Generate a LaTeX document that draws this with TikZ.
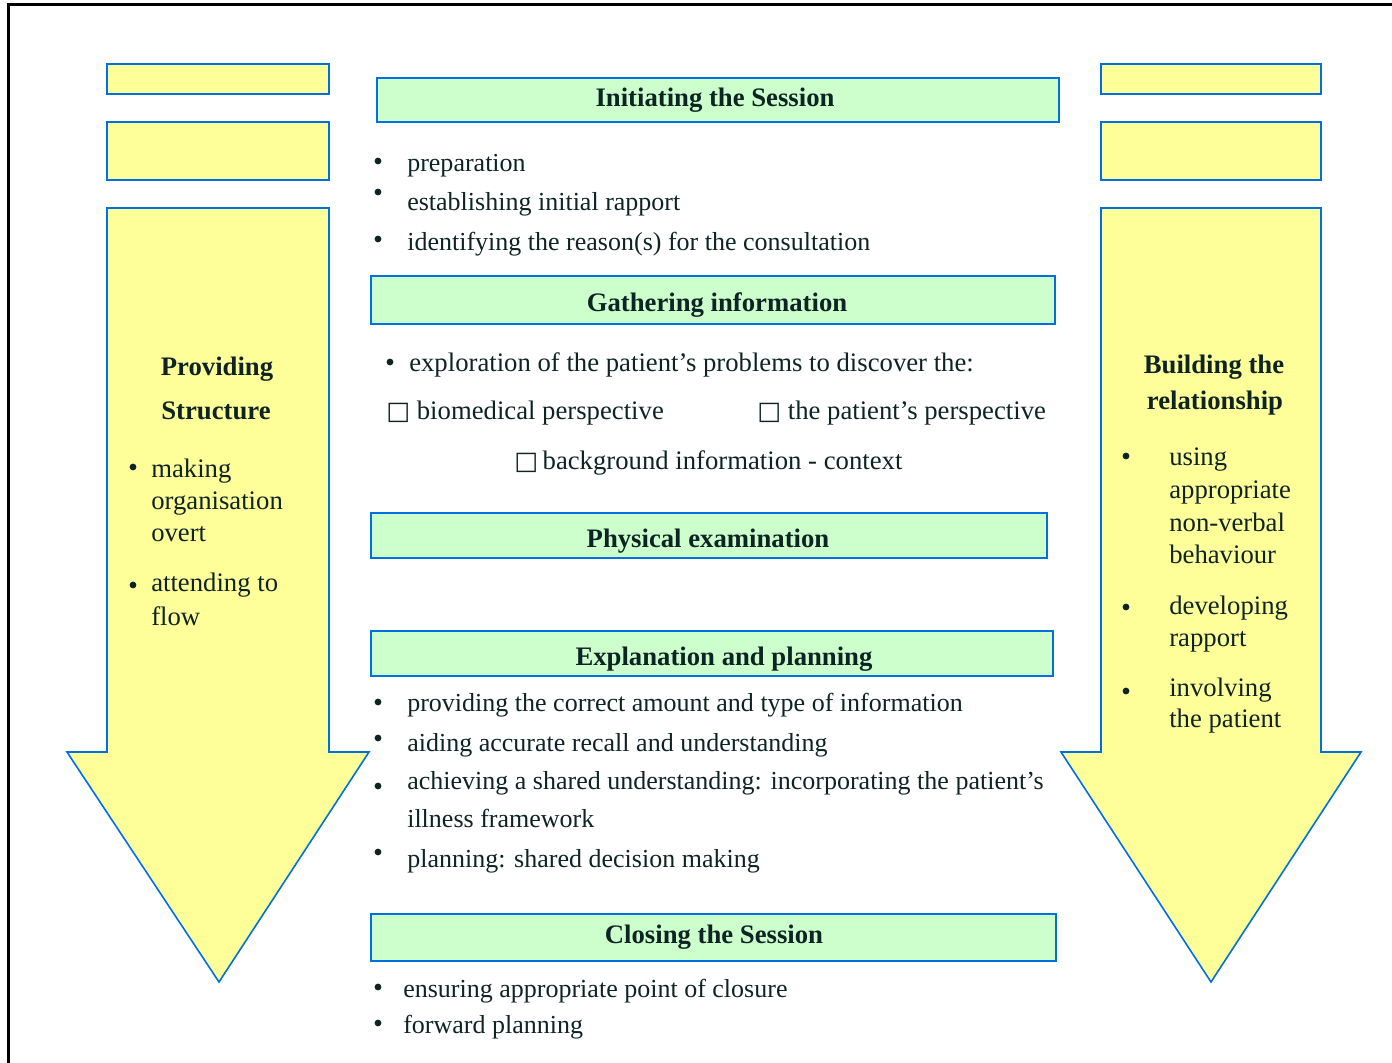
\documentclass[tikz,border=0pt]{standalone}
\usepackage{fontspec}
\setmainfont{Liberation Serif}
\newfontfamily\boxsymfont{DejaVu Sans}
\usetikzlibrary{positioning}
\definecolor{edgeblue}{RGB}{0,112,224}
\definecolor{yelfill}{RGB}{255,255,153}
\definecolor{grnfill}{RGB}{204,255,204}
\definecolor{inkcol}{RGB}{14,36,36}
\newcommand{\chkbox}{{\boxsymfont\fontsize{18}{18}\selectfont □}}

\begin{document}
\begin{tikzpicture}[x=0.25mm,y=-0.25mm,
    ybox/.style={draw=edgeblue,fill=yelfill,line width=0.5mm},
    gbox/.style={draw=edgeblue,fill=grnfill,line width=0.5mm},
    yarrow/.style={draw=edgeblue,fill=yelfill,line width=0.4mm,line join=miter},
    headtxt/.style={inner sep=0pt,yshift=-1mm,text=inkcol,font=\fontsize{19}{22}\selectfont\bfseries,text height=0.9em,text depth=0.05em},
    itemtxt/.style={anchor=west,inner sep=0pt,yshift=-1mm,text=inkcol,font=\fontsize{18.5}{22}\selectfont,text height=0.9em,text depth=0.05em},
    sidetxt/.style={itemtxt,font=\fontsize{19}{22}\selectfont},
    dot/.style={circle,fill=inkcol,inner sep=0pt,minimum size=1.7mm}]
\useasboundingbox (0,0) rectangle (1392,1063);
\draw[line width=0.75mm] (8,1063) -- (8,5) -- (1392,5);

% side arrows
\draw[ybox] (107,64) rectangle (329,94);
\draw[ybox] (107,122) rectangle (329,180);
\draw[yarrow] (107,208) -- (329,208) -- (329,752) -- (369,752) -- (219,982) -- (67,752) -- (107,752) -- cycle;
\draw[ybox] (1101,64) rectangle (1321,94);
\draw[ybox] (1101,122) rectangle (1321,180);
\draw[yarrow] (1101,208) -- (1321,208) -- (1321,752) -- (1361,752) -- (1211,982) -- (1061,752) -- (1101,752) -- cycle;

\node[headtxt] (prov) at (217,366) {Providing};
\node[headtxt] (struc) at (216,410) {Structure};
\node[dot] (pd1) at (133,467) {};
\node[dot] (pd2) at (133,585) {};
\foreach \t/\y in {making/468,organisation/500,overt/532,attending to/582,flow/616}
  \node[sidetxt] (ps-\y) at (151,\y) {\t};

\node[headtxt] (build) at (1214,364) {Building the};
\node[headtxt] (relat) at (1215,400) {relationship};
\node[dot] (bd1) at (1126,456) {};
\node[dot] (bd2) at (1126,607) {};
\node[dot] (bd3) at (1126,691) {};
\foreach \t/\y in {using/456,appropriate/489,non-verbal/522,behaviour/554,developing/605,rapport/637,involving/687,the patient/718}
  \node[sidetxt] (bs-\y) at (1169,\y) {\t};

% stages
\draw[gbox] (377,78) rectangle (1059,122);
\node[headtxt] (init) at (715,97) {Initiating the Session};
\foreach \y in {161,192,239} \node[dot] (id-\y) at (378,\y) {};
\node[itemtxt] (i1) at (407,162) {preparation};
\node[itemtxt] (i2) at (407,201) {establishing initial rapport};
\node[itemtxt] (i3) at (407,241) {identifying the reason(s) for the consultation};

\draw[gbox] (371,276) rectangle (1055,324);
\node[headtxt] (gath) at (717,302) {Gathering information};
\node[dot] (gd1) at (390,362) {};
\node[sidetxt] (g1) at (409,362) {exploration of the patient’s problems to discover the:};
\node[sidetxt] (g2) at (386,410) {\chkbox\ biomedical perspective};
\node[sidetxt] (g3) at (757,410) {\chkbox\ the patient’s perspective};
\node[sidetxt] (g4) at (514,460) {\chkbox\,background information - context};

\draw[gbox] (371,513) rectangle (1047,558);
\node[headtxt] (phys) at (708,538) {Physical examination};

\draw[gbox] (371,631) rectangle (1053,676);
\node[headtxt] (expl) at (724,656) {Explanation and planning};
\foreach \y in {702,738,786,852} \node[dot] (ed-\y) at (378,\y) {};
\node[itemtxt] (e1) at (407,702) {providing the correct amount and type of information};
\node[itemtxt] (e2) at (407,742) {aiding accurate recall and understanding};
\node[itemtxt] (e3) at (407,780) {achieving a shared understanding: incorporating the patient’s};
\node[itemtxt] (e4) at (407,818) {illness framework};
\node[itemtxt] (e5) at (407,858) {planning: shared decision making};

\draw[gbox] (371,914) rectangle (1056,961);
\node[headtxt] (clos) at (714,934) {Closing the Session};
\foreach \y in {987,1023} \node[dot] (cd-\y) at (378,\y) {};
\node[itemtxt] (c1) at (403,988) {ensuring appropriate point of closure};
\node[itemtxt] (c2) at (403,1024) {forward planning};
\end{tikzpicture}
\end{document}
